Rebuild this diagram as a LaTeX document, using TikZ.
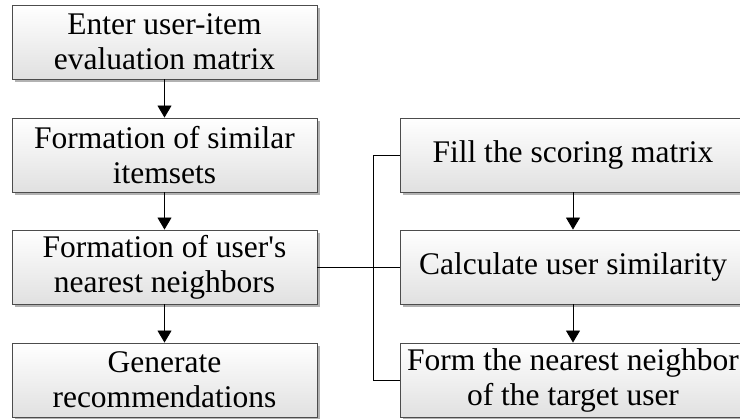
\documentclass[tikz,border=0pt]{standalone}
\usepackage{fontspec}
\setmainfont{Liberation Serif}
\usepackage{tikz}
\usetikzlibrary{arrows.meta}
\usetikzlibrary{shadows}

\tikzset{
  box/.style={draw=black!70, line width=0.9pt, top color=white, bottom color=black!12,
    drop shadow={shadow xshift=3pt, shadow yshift=-3pt, fill=black!30, opacity=1},
    align=center, inner sep=0pt, minimum height=74pt,
    font=\fontsize{31.5}{35}\selectfont},
  arr/.style={line width=0.9pt, -{Triangle[width=14pt,length=12pt]}},
  line/.style={line width=0.9pt}
}

\begin{document}
\begin{tikzpicture}[x=1pt,y=-1pt]
\useasboundingbox (0,0) rectangle (740,419);
\node[box, minimum width=305pt] (l_0) at (164.5,42) {Enter user-item\\evaluation matrix};
\node[box, minimum width=305pt] (l_1) at (164.5,155) {Formation of similar\\itemsets};
\node[box, minimum width=305pt] (l_2) at (164.5,267) {Formation of user\textquotesingle s\\nearest neighbors};
\node[box, minimum width=305pt] (l_3) at (164.5,380) {Generate\\recommendations};
\node[box, minimum width=346pt] (r_0) at (573,155) {Fill the scoring matrix};
\node[box, minimum width=346pt] (r_1) at (573,267) {Calculate user similarity};
\node[box, minimum width=346pt] (r_2) at (573,380) {Form the nearest neighbor\\of the target user};
\foreach \i in {0,...,2} {
  \pgfmathtruncatemacro{\j}{\i+1};
  \draw[arr] (l_\i) -- (l_\j);
}
\foreach \i in {0,1} {
  \pgfmathtruncatemacro{\j}{\i+1};
  \draw[arr] (r_\i) -- (r_\j);
}
\draw[line] (l_2.east) -- (r_1.west);
\draw[line] (r_0.west) -- ++(-26,0) |- (r_2.west);
\end{tikzpicture}
\end{document}
